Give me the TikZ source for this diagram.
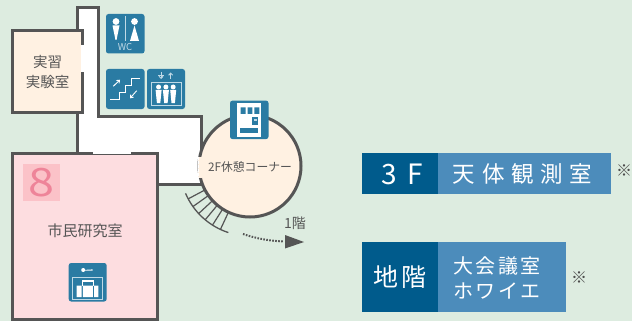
\documentclass[tikz,border=0pt]{standalone}
\usepackage{fontspec}
\setmainfont{Noto Sans CJK JP}
\newfontfamily\jpsp[LetterSpace=30]{Noto Sans CJK JP}
\newfontfamily\jpspb[LetterSpace=12]{Noto Sans CJK JP}
\newfontfamily\jpspc[LetterSpace=38]{Noto Sans CJK JP}
\usetikzlibrary{arrows.meta}
\definecolor{bgc}{HTML}{DDECE0}
\definecolor{wallc}{HTML}{555555}
\definecolor{creamc}{HTML}{FFF1E2}
\definecolor{pinkc}{HTML}{FDDDE0}
\definecolor{numboxc}{HTML}{FBC2C8}
\definecolor{numc}{HTML}{EE8499}
\definecolor{iconc}{HTML}{2A7BA3}
\definecolor{icolinec}{HTML}{BFD9E6}
\definecolor{darkc}{HTML}{005B8C}
\definecolor{lightc}{HTML}{4C8CBB}
\tikzset{
  wall/.style={draw=wallc,line width=3pt,line join=miter},
  lbl/.style={text=wallc,inner sep=0pt,align=center},
  iconbox/.style={fill=iconc,rounded corners=2.5pt},
  icoline/.style={draw=white,line width=0.9pt},
  icolite/.style={draw=icolinec,line width=1pt},
  panel/.style={inner sep=0pt,text=white,align=center},
  tread/.style={draw=wallc,line width=1.2pt},
  opening/.style={draw=white,line width=2.6pt},
}
\newcommand{\person}[3]{\fill[#3] (#1,#2) circle (2.5);
  \fill[#3] (#1-3,#2+3) -- (#1+3,#2+3) -- (#1+1.7,#2+16) -- (#1-1.7,#2+16) -- cycle;}
\begin{document}
\begin{tikzpicture}[x=1pt,y=-1pt]
\useasboundingbox (0,0) rectangle (632,321);
\fill[bgc] (0,0) rectangle (632,321);
% corridor
\draw[wall,fill=white] (77.5,7.5) -- (98.5,7.5) -- (98.5,116) -- (201,116) -- (201,184) -- (157,184) -- (157,153) -- (77.5,153) -- cycle;
% lounge
\node[circle,draw=wallc,line width=3pt,fill=creamc,minimum size=102pt,inner sep=0pt] (lounge) at (250,166) {};
\coordinate (loungedoorA) at (200,157);
\coordinate (loungedoorB) at (200,178);
\draw[draw=creamc,line width=3.6pt] (loungedoorA) -- (loungedoorB);
\draw[draw=white,line width=0.8pt,dash pattern=on 3pt off 1pt] (198.6,157) -- (198.6,178);
% stairs
\draw[tread,line width=1.3pt] ([shift={(157:70)}]lounge.center) arc[start angle=157,end angle=108,radius=70];
\foreach \a in {152,144.6,137.2,129.8,122.4,115}
  \draw[tread] ([shift={(\a:52)}]lounge.center) -- ([shift={(\a:70)}]lounge.center);
% lab room
\node[wall,fill=creamc,minimum width=70pt,minimum height=81pt,inner sep=0pt,outer sep=0pt,anchor=north west] (lab) at (12,31) {};
\coordinate (labdoorA) at (82.3,45);
\coordinate (labdoorB) at (82.3,72);
\draw[opening] (labdoorA) -- (labdoorB);
\node[lbl,font=\fontsize{14.5}{20}\selectfont] (labtext) at (47.5,72) {実習\\実験室};
% room 8
\node[wall,fill=pinkc,minimum width=145pt,minimum height=166pt,inner sep=0pt,outer sep=0pt,anchor=north west] (room) at (12,153) {};
\coordinate (roomdoorA) at (93,152.8);
\coordinate (roomdoorB) at (131,152.8);
\draw[opening] (roomdoorA) -- (roomdoorB);
\node[fill=numboxc,minimum size=37pt,inner sep=0pt,text=numc,font=\fontsize{39}{39}\selectfont] (num) at (41.5,182.5) {\scalebox{1.2}[1]{8}};
\node[lbl,font=\fontsize{15}{15}\selectfont] (roomtext) at (85,231) {市民研究室};
% lounge text
\node[lbl,font=\fontsize{11.8}{14}\selectfont] (loungetext) at (250,167) {2F休憩コーナー};
% arrow to 1F
\node[lbl,font=\fontsize{14}{14}\selectfont] (onef) at (295,223) {1階};
\coordinate (dotstart) at (243,234);
\coordinate (tipbase) at (284,241.5);
\draw[wallc,line width=2pt,dash pattern=on 1.6pt off 1.4pt] (dotstart) .. controls (256,238.5) and (270,241) .. (tipbase);
\fill[wallc] (285,235) -- (304,242) -- (285,248.5) -- cycle;
% WC icon
\begin{scope}[shift={(106,14)}]
  \fill[iconbox] (0,0) rectangle (38.5,39.5);
  \draw[icolite,line width=.8pt] (19,2) -- (19,27);
  \fill[white] (10,7.5) circle (3.4) (28.5,7.5) circle (3.4);
  \fill[white] (6.5,11.5) -- (13.5,11.5) -- (10.5,26) -- (9.5,26) -- cycle;
  \fill[white] (28.5,11.5) -- (33,27) -- (24,27) -- cycle;
  \node[inner sep=0pt,text=icolinec,font=\fontsize{9.5}{9.5}\selectfont] (wctext) at (19,33.5) {WC};
\end{scope}
% stairs icon
\begin{scope}[shift={(106,69)}]
  \fill[iconbox] (0,0) rectangle (38.5,40);
  \draw[icoline] (4,30) -- (13,30) -- (13,23) -- (19,23) -- (19,16.3) -- (25.6,16.3) -- (25.6,9.3) -- (34,9.3);
  \draw[icoline,-{Straight Barb[length=2.5pt,width=4pt]}] (7.3,17.3) -- (14,10.7);
  \draw[icoline,-{Straight Barb[length=2.5pt,width=4pt]}] (30.7,21.7) -- (24,29.3);
\end{scope}
% elevator icon
\begin{scope}[shift={(147,69)}]
  \fill[iconbox] (0,0) rectangle (38,40);
  \draw[icolite] (4,14) rectangle (34,36.7);
  \draw[icolite,-{Straight Barb[length=2pt,width=4pt]}] (14,3.5) -- (14,10);
  \draw[icolite,-{Straight Barb[length=2pt,width=4pt]}] (23.7,10) -- (23.7,3.5);
  \draw[icolite,line width=.8pt] (11,6.5) -- (17,6.5);
  \person{11.6}{18}{white}
  \person{18.9}{18}{white}
  \person{26.2}{18}{white}
\end{scope}
% vending icon
\begin{scope}[shift={(230,100.6)}]
  \fill[iconbox] (0,0) rectangle (38.5,38.5);
  \fill[white] (7.3,2.7) rectangle (31,36);
  \fill[iconc] (10.7,6.7) rectangle (15.5,13.3) (17.5,6.7) rectangle (22.3,13.3) (24.3,6.7) rectangle (29.3,13.3);
  \fill[iconc] (21.7,16.7) rectangle (28.3,24.3);
  \fill[icolinec] (23.5,18.5) rectangle (26.5,20.5);
  \fill[iconc] (10,27) rectangle (28.3,32);
\end{scope}
% key and bag icon
\begin{scope}[shift={(68.7,263)}]
  \fill[iconbox] (0,0) rectangle (38,38.5);
  \fill[white] (14.5,7) circle (2) (14.5,7) -- (24,6.4) -- (24,7.6) -- (14.5,7.6) -- cycle;
  \draw[icolite] (3.7,14) rectangle (34,36);
  \draw[white,line width=1.3pt] (14,23) -- (14,18) -- (24.5,18) -- (24.5,23);
  \fill[white] (8,22.7) rectangle (12.8,34) (14.2,22.7) rectangle (24.2,34) (25.5,22.7) rectangle (29.7,34);
\end{scope}
% panels
\fill[lightc] (438,153) rectangle (611,194);
\fill[darkc] (362,153) rectangle (438,194);
\fill[lightc] (438,242) rectangle (566,312);
\fill[darkc] (362,242) rectangle (438,312);
\node[panel,font=\fontsize{28}{28}\selectfont\jpspc] (threef) at (402,174) {3F};
\node[panel,font=\fontsize{22.5}{22.5}\selectfont\jpsp] (obs) at (522.5,174) {天体観測室};
\node[panel,font=\fontsize{25}{25}\selectfont\jpspb] (b1) at (400,277) {地階};
\node[panel,font=\fontsize{20}{25}\selectfont\jpspb] (hall) at (497,277.5) {大会議室\\ホワイエ};
\node[lbl,text=black!70,font=\fontsize{16}{16}\selectfont] (noteA) at (624,170.5) {※};
\node[lbl,text=black!70,font=\fontsize{16}{16}\selectfont] (noteB) at (579,278) {※};
\end{tikzpicture}
\end{document}
